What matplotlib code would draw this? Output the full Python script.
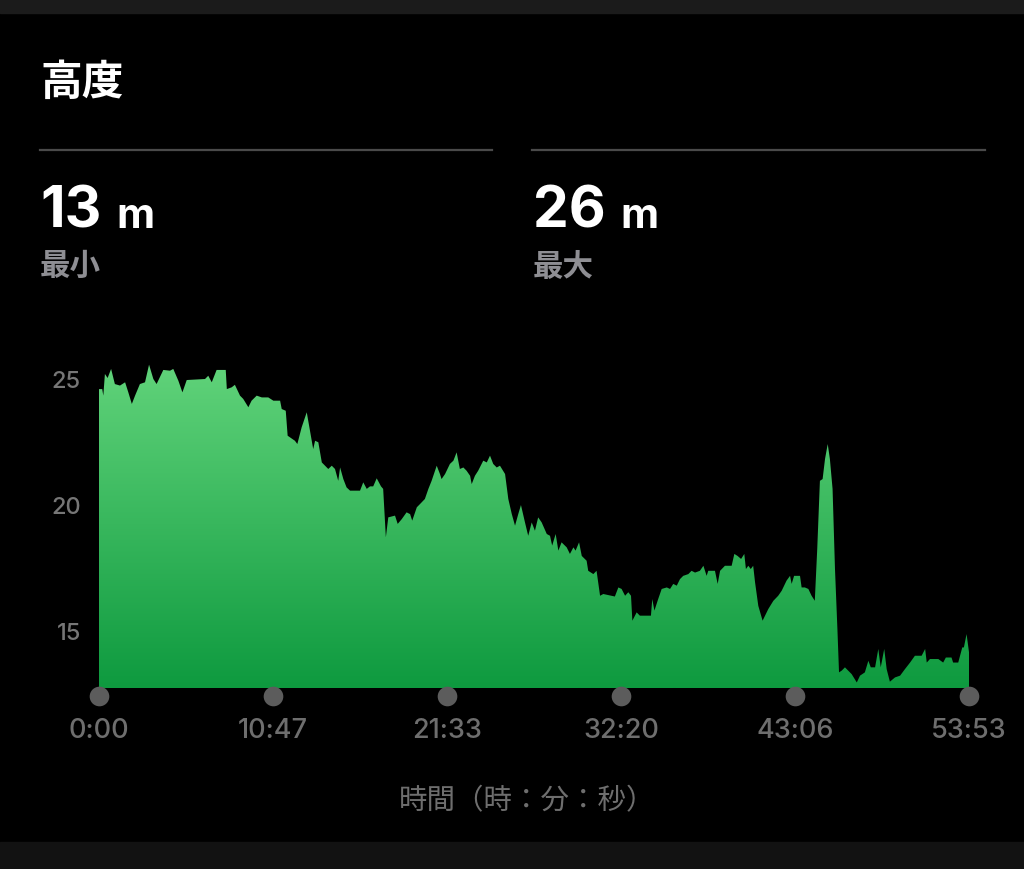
import numpy as np
import matplotlib
matplotlib.use('Agg')
import matplotlib.pyplot as plt
from matplotlib.colors import LinearSegmentedColormap
from matplotlib.patches import Polygon

plt.rcParams['font.family'] = ['Inter', 'Noto Sans CJK JP', 'DejaVu Sans']

# elapsed time (s) and altitude (m)
time_s = [0, 12, 16, 22, 32, 45, 59, 78, 97, 109, 122, 134, 152, 171, 186, 202, 214,
          239, 264, 276, 295, 310, 326, 394, 406, 419, 437, 471, 475, 493, 505, 524,
          536, 555, 567, 586, 605, 629, 648, 673, 679, 694, 701, 728, 737, 753, 772,
          784, 796, 803, 815, 828, 840, 852, 865, 877, 889, 896, 908, 920, 933, 970,
          982, 995, 1007, 1019, 1032, 1048, 1056, 1066, 1075, 1100, 1110, 1125, 1143,
          1156, 1164, 1181, 1193, 1211, 1224, 1236, 1255, 1267, 1273, 1286, 1304, 1317,
          1329, 1341, 1354, 1366, 1379, 1385, 1397, 1409, 1428, 1441, 1453, 1465, 1478,
          1490, 1509, 1521, 1534, 1546, 1558, 1568, 1583, 1595, 1608, 1620, 1632, 1645,
          1664, 1676, 1684, 1697, 1707, 1719, 1738, 1750, 1763, 1771, 1784, 1794, 1812,
          1818, 1837, 1849, 1862, 1874, 1917, 1930, 1942, 1955, 1967, 1977, 1982, 1998,
          2010, 2051, 2056, 2064, 2078, 2091, 2110, 2122, 2134, 2147, 2159, 2171, 2190,
          2202, 2215, 2233, 2246, 2258, 2264, 2289, 2299, 2308, 2326, 2351, 2361, 2373,
          2386, 2398, 2404, 2413, 2422, 2431, 2438, 2450, 2466, 2487, 2506, 2524, 2537,
          2555, 2568, 2574, 2583, 2605, 2611, 2623, 2636, 2648, 2660, 2669, 2679, 2689,
          2698, 2708, 2716, 2726, 2735, 2744, 2750, 2760, 2772, 2784, 2797, 2816, 2828,
          2846, 2859, 2868, 2884, 2896, 2905, 2918, 2927, 2939, 2958, 2977, 2995, 3014,
          3032, 3057, 3070, 3076, 3088, 3119, 3137, 3147, 3168, 3174, 3193, 3208, 3214,
          3224, 3233]
altitude = [24.56, 24.56, 24.3, 25.16, 25.0, 25.36, 24.76, 24.7, 24.83, 24.43, 23.97,
            24.3, 24.76, 24.83, 25.53, 24.96, 24.76, 25.32, 25.29, 25.36, 24.89, 24.43,
            24.92, 24.96, 25.09, 24.83, 25.32, 25.32, 24.56, 24.63, 24.73, 24.3, 24.17,
            23.84, 24.1, 24.3, 24.23, 24.23, 24.1, 24.1, 23.77, 23.7, 22.71, 22.51,
            22.38, 23.04, 23.64, 22.91, 22.18, 22.51, 22.45, 21.65, 21.52, 21.39, 21.52,
            21.39, 20.92, 21.45, 20.99, 20.66, 20.53, 20.53, 20.86, 20.6, 20.7, 20.7,
            21.02, 20.7, 20.6, 18.68, 19.47, 19.54, 19.21, 19.4, 19.67, 19.6, 19.34,
            19.87, 20.0, 20.2, 20.6, 20.92, 21.52, 21.19, 20.99, 21.19, 21.59, 21.72,
            22.05, 21.39, 21.45, 21.32, 21.12, 20.79, 21.12, 21.32, 21.72, 21.65, 21.92,
            21.59, 21.45, 21.52, 21.19, 20.2, 19.6, 19.14, 19.6, 19.96, 19.27, 18.74,
            19.27, 18.94, 19.47, 19.27, 18.81, 18.74, 18.35, 18.81, 18.15, 18.48, 18.28,
            18.02, 18.28, 18.15, 18.48, 17.94, 17.75, 17.35, 17.22, 17.35, 16.36, 16.43,
            16.33, 16.69, 16.63, 16.36, 16.5, 16.36, 15.37, 15.7, 15.57, 15.57, 16.23,
            15.77, 16.23, 16.63, 16.69, 16.63, 16.83, 16.76, 17.02, 17.15, 17.22, 17.35,
            17.28, 17.35, 17.55, 17.15, 17.35, 17.35, 16.83, 17.35, 17.55, 17.55, 18.02,
            17.94, 17.82, 18.02, 17.42, 17.55, 17.42, 17.55, 16.89, 15.96, 15.37, 15.83,
            16.16, 16.36, 16.56, 16.96, 17.15, 16.83, 17.15, 17.15, 16.69, 16.69, 16.63,
            16.36, 16.16, 18.21, 20.92, 20.99, 21.79, 22.38, 21.79, 20.6, 17.42, 15.04,
            13.32, 13.39, 13.52, 13.39, 13.25, 12.92, 13.19, 13.32, 13.78, 13.52, 13.52,
            14.25, 13.52, 14.25, 13.45, 12.95, 13.12, 13.19, 13.45, 13.71, 13.98, 13.98,
            14.25, 13.71, 13.85, 13.85, 13.71, 13.91, 13.91, 13.71, 13.71, 14.31, 14.31,
            14.84, 14.12]

x_ticks = [0, 647, 1293, 1940, 2586, 3233]
x_labels = ['0:00', '10:47', '21:33', '32:20', '43:06', '53:53']
y_ticks = [15, 20, 25]
min_alt = 13
max_alt = 26

y_lo, y_hi = 12.7, 25.754

fig = plt.figure(figsize=(10.24, 8.7), dpi=100, facecolor='black')

# top / bottom bands of the screenshot
fig.patches.append(plt.Rectangle((0, 1 - 14 / 870), 1, 14 / 870, transform=fig.transFigure,
                                 color='#1b1b1b', zorder=0))
fig.patches.append(plt.Rectangle((0, 0), 1, 27 / 870, transform=fig.transFigure,
                                 color='#121212', zorder=0))

fig.text(40 / 1024, 1 - 83 / 870, '高度', color='white', fontsize=30,
         fontweight='bold', va='center', ha='left')

# divider lines
for x0, x1 in [(40, 492), (532, 985)]:
    fig.add_artist(plt.Line2D([x0 / 1024, x1 / 1024], [1 - 151 / 870] * 2,
                              color='#4a4a4a', lw=1.6, transform=fig.transFigure))

renderer = fig.canvas.get_renderer()
for x0, val, lab in [(40, min_alt, '最小'), (533, max_alt, '最大')]:
    t = fig.text(x0 / 1024, 1 - 228 / 870, str(val), color='white', fontsize=41,
                 fontweight='bold', va='baseline', ha='left')
    x_end = t.get_window_extent(renderer).x1
    fig.text((x_end + 15) / 1024, 1 - 228 / 870, 'm', color='white', fontsize=30,
             fontweight='bold', va='baseline', ha='left')
    fig.text(x0 / 1024, 1 - 267 / 870, lab, color='#8e8e93', fontsize=22,
             fontweight='bold', va='center', ha='left')

ax = fig.add_axes([99 / 1024, 1 - 689 / 870, 870 / 1024, 329 / 870])
ax.set_facecolor('black')
ax.set_xlim(0, 3233)
ax.set_ylim(y_lo, y_hi)

cmap = LinearSegmentedColormap.from_list('alt', ['#0e9a3f', '#62d47b'])
grad = np.linspace(0, 1, 256).reshape(-1, 1)
im = ax.imshow(grad, cmap=cmap, aspect='auto', origin='lower',
               extent=[0, 3233, y_lo, y_hi], interpolation='bilinear')
verts = np.column_stack([np.r_[time_s[0], time_s, time_s[-1]],
                         np.r_[y_lo, altitude, y_lo]])
poly = Polygon(verts, closed=True, facecolor='none', edgecolor='none')
ax.add_patch(poly)
im.set_clip_path(poly)

for s in ax.spines.values():
    s.set_visible(False)
ax.set_xticks([])
ax.set_yticks(y_ticks)
ax.set_yticklabels([str(v) for v in y_ticks], color='#767676', fontsize=17,
                   fontweight='medium')
ax.tick_params(axis='y', length=0, pad=13)

ax.scatter(x_ticks, [y_lo - 8 / 25.2] * len(x_ticks), s=200, color='#5c5c5c',
           clip_on=False, zorder=5, linewidths=0)
for xt, lab in zip(x_ticks, x_labels):
    ax.text(xt, -0.128, lab, color='#6e6e6e', fontsize=19.5, fontweight='medium',
            ha='center', va='center', transform=ax.get_xaxis_transform())

fig.text(527 / 1024, 1 - 802 / 870, '時間（時：分：秒）', color='#6e6e6e', fontsize=20.5,
         ha='center', va='center')

fig.savefig('out.png', dpi=100, facecolor='black')
